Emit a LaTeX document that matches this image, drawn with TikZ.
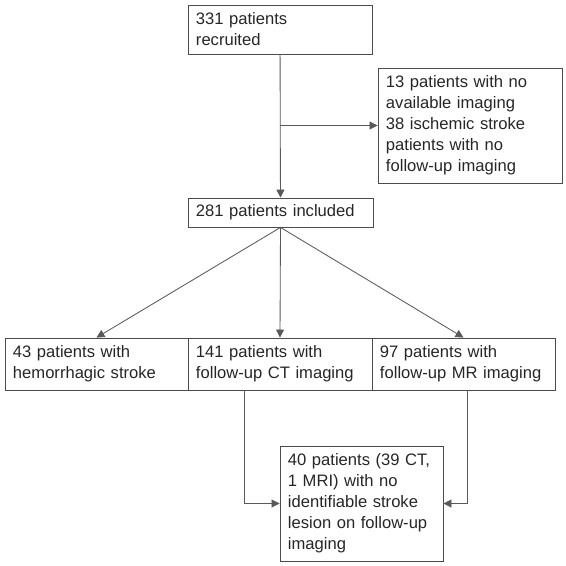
\documentclass[tikz,border=0pt]{standalone}
\usepackage{fontspec}
\setmainfont{Liberation Sans}
\usetikzlibrary{arrows.meta}
\tikzset{
  box/.style={draw=black!70, line width=0.6pt, rectangle, align=left, inner xsep=0.2cm,
    inner ysep=0pt, text=black!85, font=\fontsize{11.8}{14.9}\selectfont},
  link/.style={draw=black!65, line width=0.6pt, -{Triangle[length=2mm,width=2mm]}}
}
\begin{document}
\begin{tikzpicture}[x=0.025cm, y=-0.025cm]
  \useasboundingbox (0,0) rectangle (566,566);
  \node[box, text width=4.2cm, minimum height=1.225cm] (rec) at (280,29.5) {331 patients\\recruited};
  \node[box, text width=4.2cm, minimum height=2.875cm] (exc) at (470,125.5)
    {13 patients with no\\available imaging\\38 ischemic stroke\\patients with no\\follow-up imaging};
  \node[box, text width=4.225cm, minimum height=0.725cm] (inc) at (280.5,212.5) {281 patients included};
  \node[box, text width=4.175cm, minimum height=1.3cm] (hem) at (96.5,364) {43 patients with\\hemorrhagic stroke};
  \node[box, text width=4.2cm, minimum height=1.3cm] (ct) at (280,364) {141 patients with\\follow-up CT imaging};
  \node[box, text width=4.175cm, minimum height=1.3cm] (mr) at (463.5,364) {97 patients with\\follow-up MR imaging};
  \node[box, text width=3.675cm, minimum height=2.875cm] (les) at (361.5,503.5)
    {40 patients (39 CT,\\1 MRI) with no\\identifiable stroke\\lesion on follow-up\\imaging};
  \coordinate (split) at (rec.south |- exc.west);
  \draw[link] (rec) -- (inc);
  \draw[link] (split) -- (exc.west);
  \draw[link] (inc.south) -- (hem.north);
  \draw[link] (inc.south) -- (ct.north);
  \draw[link] (inc.south) -- (mr.north);
  \draw[link] ([xshift=-0.9cm]ct.south) |- (les.west);
  \draw[link] ([xshift=0.09cm]mr.south) |- (les.east);
\end{tikzpicture}
\end{document}
